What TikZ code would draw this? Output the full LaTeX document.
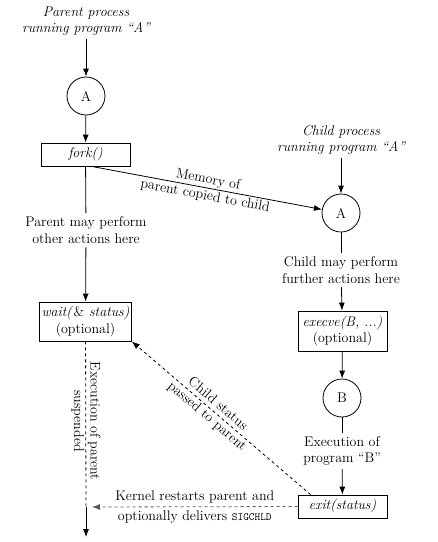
\documentclass[tikz,border=0pt]{standalone}
\usepackage{tikz}
\usetikzlibrary{arrows.meta, positioning}

\tikzset{
  prog/.style={draw, circle, minimum size=38pt, inner sep=0pt, line width=0.8pt},
  callbox/.style={draw, minimum width=89pt, minimum height=23pt, inner sep=2pt,
                  align=center, line width=0.8pt},
  note/.style={align=center},
  flow/.style={-{Latex[length=8pt,width=6pt]}, line width=0.8pt},
}

\begin{document}
\begin{tikzpicture}[x=1pt, y=-1pt, font=\fontsize{14}{16.5}\selectfont]
\useasboundingbox (0,0) rectangle (438,542);

% parent side
\node[note] (ptitle) at (86,21) {\itshape Parent process\\\itshape running program ``A''};
\node[prog] (pa) at (86,96) {A};
\node[callbox] (fork) at (85.5,154.5) {\textit{fork()}};
\node[note] (pact) at (86,230) {Parent may perform\\other actions here};
\node[callbox, minimum height=39pt] (wait) at (85.5,321.5) {\textit{wait(\textup{\&} status)}\\(optional)};
\node[note, rotate=-90] (susp) at (86,421) {Execution of parent\\suspended};
\coordinate (wake) at (86,507);
\coordinate (pend) at (86,537);

% child side
\node[note] (ctitle) at (341,140) {\itshape Child process\\\itshape running program ``A''};
\node[prog] (ca) at (341,213) {A};
\node[note] (cact) at (341,270) {Child may perform\\further actions here};
\node[callbox, minimum height=40pt] (execve) at (342.5,331) {\textit{execve(B, ...)}\\(optional)};
\node[prog] (cb) at (342,398) {B};
\node[note] (bexec) at (342,451) {Execution of\\program ``B''};
\node[callbox] (exit) at (342.5,506.5) {\textit{exit(status)}};

\draw[flow] (ptitle) -- (pa);
\draw[flow] (pa) -- (fork);
\draw[line width=0.8pt] (fork) -- (pact);
\draw[flow] (pact) -- (wait);
\draw[dashed, line width=0.8pt] (wait) -- (wake);
\draw[flow] (wake) -- (pend);

\draw[flow] (ctitle) -- (ca);
\draw[line width=0.8pt] (ca) -- (cact);
\draw[flow] (cact) -- (execve);
\draw[flow] (execve) -- (cb);
\draw[line width=0.8pt] (cb) -- (bexec);
\draw[flow] (bexec) -- (exit);

% fork copies memory
\draw[flow] ([xshift=6pt]fork.south) -- node[note, sloped] {Memory of\\parent copied to child} (ca);

% status back to parent
\draw[flow, dashed] ([xshift=13pt]exit.north west) -- node[note, sloped, pos=0.55] {Child status\\passed to parent} (wait.south east);
\draw[flow, dashed, draw=black!65] (exit.west) --
  node[above=0pt] {Kernel restarts parent and}
  node[below=0pt] {optionally delivers {\ttfamily\fontsize{11}{13}\selectfont SIGCHLD}}
  ([xshift=6pt]wake);
\end{tikzpicture}
\end{document}
